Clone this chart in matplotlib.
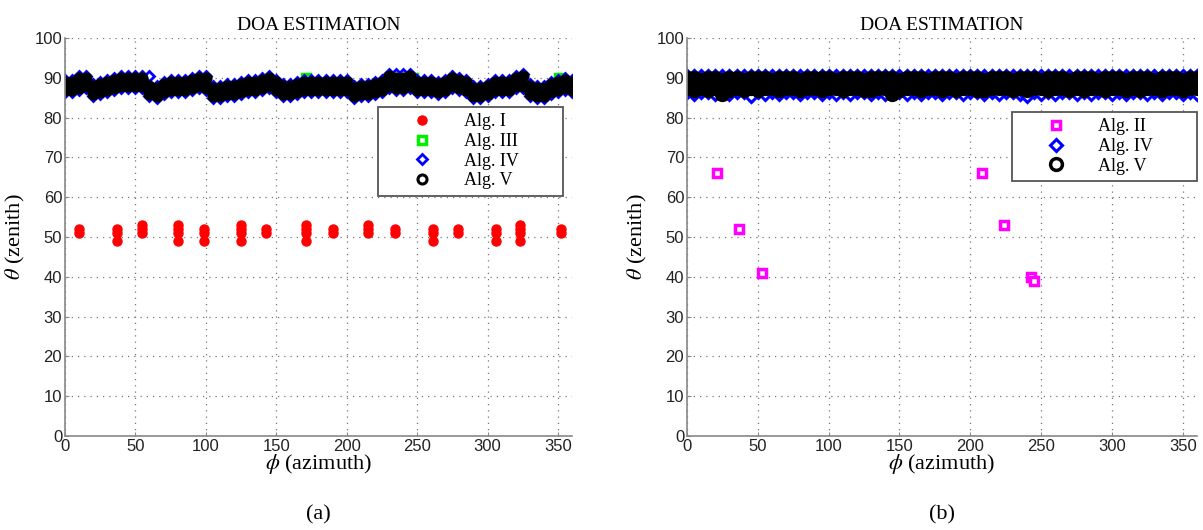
import numpy as np
from matplotlib import pyplot as plt

plt.rcParams['mathtext.fontset'] = 'stix'

# ---------------- panel (a) ----------------
phi_a = list(range(0, 361, 5))

# Alg. V band (upper / lower edge of the black trace)
alg5_a_hi = [89, 89, 90, 90, 88, 88.5, 89, 89.5, 90, 90, 90, 90, 88, 87.5, 88.5, 89,
             89, 89, 89.5, 90, 90, 87.5, 87.5, 88, 88, 88.5, 89, 89, 89.5, 90, 89, 88,
             88, 88.5, 89, 89, 89, 89, 89, 89, 89, 87.5, 88, 88, 88.5, 89, 90.5, 90,
             90, 90.5, 89, 89, 89, 88.5, 89, 90, 89.5, 89, 87.5, 87.5, 88, 89, 89, 89,
             90, 90.5, 88, 87.5, 87.5, 88.5, 89, 89.5, 89]
alg5_a_lo = [87, 87, 87.5, 88, 86, 86.5, 87, 87.5, 88, 88, 88, 88, 86, 85.5, 86.5, 87,
             87, 87, 87.5, 88, 87.5, 85.5, 85.5, 86, 86, 86.5, 87, 87, 87.5, 88, 87, 86,
             86, 86.5, 87, 87, 87, 87, 87, 87, 87, 85.5, 86, 86, 86.5, 87, 88, 87.5,
             87.5, 88, 87, 87, 87, 86.5, 87, 88, 87.5, 87, 85.5, 85.5, 86, 87, 87, 87,
             88, 88, 86, 85.5, 85.5, 86.5, 87, 87.5, 87]
# Alg. IV band (slightly wider, shows as blue rim)
alg4_a_hi = [89.5, 89.5, 90.5, 90.5, 88.5, 89, 89.5, 90, 90.5, 90.5, 90.5, 90.5, 90.5, 88, 89, 89.5,
             89.5, 89.5, 90, 90.5, 90.5, 88, 88, 88.5, 88.5, 89, 89.5, 89.5, 90, 90.5, 89.5, 88.5,
             88.5, 89, 89.5, 89.5, 89.5, 89.5, 89.5, 89.5, 89.5, 88, 88.5, 88.5, 89, 89.5, 91, 91,
             91, 91, 89.5, 89.5, 89.5, 89, 89.5, 90.5, 90, 89.5, 88, 88, 88.5, 89.5, 89.5, 89.5,
             90.5, 91, 88.5, 88, 88, 89, 89.5, 90, 89.5]
alg4_a_lo = [86.5, 86.5, 87, 87.5, 85.5, 86, 86.5, 87, 87.5, 87.5, 87.5, 87.5, 85.5, 85, 86, 86.5,
             86.5, 86.5, 87, 87.5, 87, 85, 85, 85.5, 85.5, 86, 86.5, 86.5, 87, 87.5, 86.5, 85.5,
             85.5, 86, 86.5, 86.5, 86.5, 86.5, 86.5, 86.5, 86.5, 85, 85.5, 85.5, 86, 86.5, 87.5, 87,
             87, 87.5, 86.5, 86.5, 86.5, 86, 86.5, 87.5, 87, 86.5, 85, 85, 85.5, 86.5, 86.5, 86.5,
             87.5, 87.5, 85.5, 85, 85, 86, 86.5, 87, 86.5]
# Alg. III: hidden under the band except a few outliers
alg3_a_phi = [0, 30, 60, 90, 120, 150, 171, 200, 230, 247, 280, 310, 340, 351]
alg3_a_th = [88, 88, 87, 88, 87, 88, 90, 88, 88, 90, 88, 88, 87, 90]
# Alg. I
alg1_phi = [10, 10, 37, 37, 37, 55, 55, 55, 80, 80, 80, 80, 99, 99, 99,
            125, 125, 125, 125, 143, 143, 171, 171, 171, 171, 190, 190,
            215, 215, 215, 234, 234, 261, 261, 261, 279, 279, 306, 306, 306,
            323, 323, 323, 323, 352, 352]
alg1_th = [51, 52, 49, 51, 52, 51, 52, 53, 49, 51, 52, 53, 49, 51, 52,
           49, 51, 52, 53, 51, 52, 49, 51, 52, 53, 51, 52,
           51, 52, 53, 51, 52, 49, 51, 52, 51, 52, 49, 51, 52,
           49, 51, 52, 53, 51, 52]

# ---------------- panel (b) ----------------
phi_b = list(range(0, 361, 5))
alg5_b_hi = [90, 90, 89.5, 90, 90, 89.5, 90, 90, 89.5, 90, 90, 90, 89.5, 90, 90, 90,
             89.5, 90, 90, 90, 90, 89.5, 90, 90, 90, 89.5, 90, 90, 90, 90, 89.5, 90,
             90, 90, 89.5, 90, 90, 90, 89.5, 90, 90, 90, 89.5, 90, 90, 90, 89.5, 90,
             90, 90, 89.5, 90, 90, 90, 89.5, 90, 90, 90, 89.5, 90, 90, 90, 89.5, 90,
             90, 90, 89.5, 90, 90, 90, 89.5, 90, 90]
alg5_b_lo = [87.5, 87, 87.5, 87, 87.5, 86, 87, 87.5, 87, 87.5, 87, 87.5, 87.5, 87, 87.5, 87.5,
             87, 87.5, 87.5, 87, 87.5, 87.5, 87, 87.5, 87.5, 87, 87, 87.5, 87.5, 86, 87, 87.5,
             87.5, 87, 87.5, 87.5, 87, 87.5, 87, 87.5, 87.5, 87, 87, 87.5, 87.5, 87.5, 87, 87.5,
             87, 87.5, 87.5, 87, 87.5, 87.5, 87, 87.5, 87, 87.5, 87.5, 87, 87.5, 87.5, 87, 87.5,
             87, 87.5, 87.5, 87, 87.5, 87.5, 87, 87.5, 87.5]
alg4_b_hi = [90.5, 90.5, 90.5, 90.5, 90.5, 90.5, 90.5, 90.5, 90.5, 90.5, 90.5, 90.5, 90.5, 90.5, 90.5, 90.5,
             90.5, 90.5, 90.5, 90.5, 90.5, 90.5, 90.5, 90.5, 90.5, 90.5, 90.5, 90.5, 90.5, 90.5, 90.5, 90.5,
             90.5, 90.5, 90.5, 90.5, 90.5, 90.5, 90.5, 90.5, 90.5, 90.5, 90.5, 90.5, 90.5, 90.5, 90.5, 90.5,
             90.5, 90.5, 90.5, 90.5, 90.5, 90.5, 90.5, 90.5, 90.5, 90.5, 90.5, 90.5, 90.5, 90.5, 90.5, 90.5,
             90.5, 90.5, 90.5, 90.5, 90.5, 90.5, 90.5, 90.5, 90.5]
alg4_b_lo = [86.5, 86, 86.5, 86.5, 86, 86.5, 86, 86.5, 86.5, 85.5, 86.5, 86, 86.5, 86, 86.5, 86.5,
             86, 86.5, 86.5, 86, 86.5, 86, 86.5, 86, 86.5, 86.5, 86, 86.5, 86, 86.5, 86.5, 86,
             86.5, 86, 86.5, 86.5, 86, 86.5, 86.5, 86, 86.5, 86.5, 86, 86.5, 86, 86.5, 86.5, 86,
             85.5, 86.5, 86, 86.5, 86, 86.5, 86.5, 86, 86.5, 86, 86.5, 86.5, 86, 86.5, 86, 86.5,
             86.5, 86, 86.5, 86, 86.5, 86.5, 86, 86.5, 86]
# Alg. II outliers (rest hidden under band)
alg2_phi = [0, 21, 37, 53, 90, 150, 208, 224, 243, 245, 300, 350]
alg2_th = [88, 66, 52, 41, 88, 87, 66, 53, 40, 39, 88, 88]

serif = 'Liberation Serif'
sans = 'Liberation Sans'


def style_axes(ax, caption):
    ax.set_xlim(0, 360)
    ax.set_ylim(0, 100)
    ax.set_xticks(range(0, 351, 50))
    ax.set_yticks(range(0, 101, 10))
    ax.grid(True, linestyle=(0, (1, 4)), color='#777777', linewidth=0.9)
    ax.set_axisbelow(True)
    for s in ['top', 'right']:
        ax.spines[s].set_visible(False)
    for s in ['left', 'bottom']:
        ax.spines[s].set_color('#888888')
        ax.spines[s].set_linewidth(1.2)
    ax.tick_params(direction='in', length=3, color='#888888', labelsize=12,
                   labelcolor='#222222', pad=2)
    for lab in ax.get_xticklabels() + ax.get_yticklabels():
        lab.set_family(sans)
    ax.set_title('DOA ESTIMATION', fontfamily=serif, fontsize=14, pad=6)
    ax.set_xlabel(r'$\phi$ (azimuth)', fontfamily=serif, fontsize=16, labelpad=-1)
    ax.set_ylabel(r'$\theta$ (zenith)', fontfamily=serif, fontsize=16, labelpad=5)
    ax.text(0.5, -0.198, caption, transform=ax.transAxes, ha='center', va='center',
            fontfamily=serif, fontsize=16)


def make_legend(ax, box):
    leg = ax.legend(loc='upper left', bbox_to_anchor=box, mode='expand',
                    prop={'family': serif, 'size': 13}, fancybox=False,
                    edgecolor='#555555', framealpha=1, borderpad=0.35,
                    labelspacing=0.15, handlelength=4.2, handletextpad=0.2,
                    borderaxespad=0)
    leg.get_frame().set_linewidth(1.3)
    return leg


fig = plt.figure(figsize=(12.03, 5.30), dpi=100)
ax1 = fig.add_axes([0.054, 0.1774, 0.4215, 0.751])
ax2 = fig.add_axes([0.571, 0.1774, 0.424, 0.751])

# (a)
ax1.plot(alg1_phi, alg1_th, 'o', color='red', ms=6.5, label='Alg. I')
ax1.plot(alg3_a_phi, alg3_a_th, 's', mfc='white', mec='#00ee00', mew=2.5, ms=6, label='Alg. III')
ax1.plot(phi_a + phi_a, alg4_a_hi + alg4_a_lo, 'D', mfc='white', mec='blue', mew=2, ms=5.5,
         label='Alg. IV')
ax1.plot(phi_a + phi_a, alg5_a_hi + alg5_a_lo, 'o', mfc='white', mec='black', mew=2.2, ms=6.5,
         label='Alg. V')
ax1.plot(phi_a, alg5_a_hi, 'o', mfc='black', mec='black', ms=6.5)
ax1.plot(phi_a, alg5_a_lo, 'o', mfc='black', mec='black', ms=6.5)
style_axes(ax1, '(a)')
make_legend(ax1, (0.617, 0.60, 0.365, 0.227))

# (b)
ax2.plot(alg2_phi, alg2_th, 's', mfc='white', mec='magenta', mew=2.5, ms=6, label='Alg. II')
ax2.plot(phi_b + phi_b, alg4_b_hi + alg4_b_lo, 'D', mfc='white', mec='blue', mew=2.2, ms=6.5,
         label='Alg. IV')
ax2.plot(phi_b + phi_b, alg5_b_hi + alg5_b_lo, 'o', mfc='white', mec='black', mew=2.5, ms=8.5,
         label='Alg. V')
ax2.plot(phi_b, alg5_b_hi, 'o', mfc='black', mec='black', ms=8.5)
ax2.plot(phi_b, alg5_b_lo, 'o', mfc='black', mec='black', ms=6)
style_axes(ax2, '(b)')
make_legend(ax2, (0.637, 0.638, 0.363, 0.176))

fig.savefig('out.png', dpi=100)
